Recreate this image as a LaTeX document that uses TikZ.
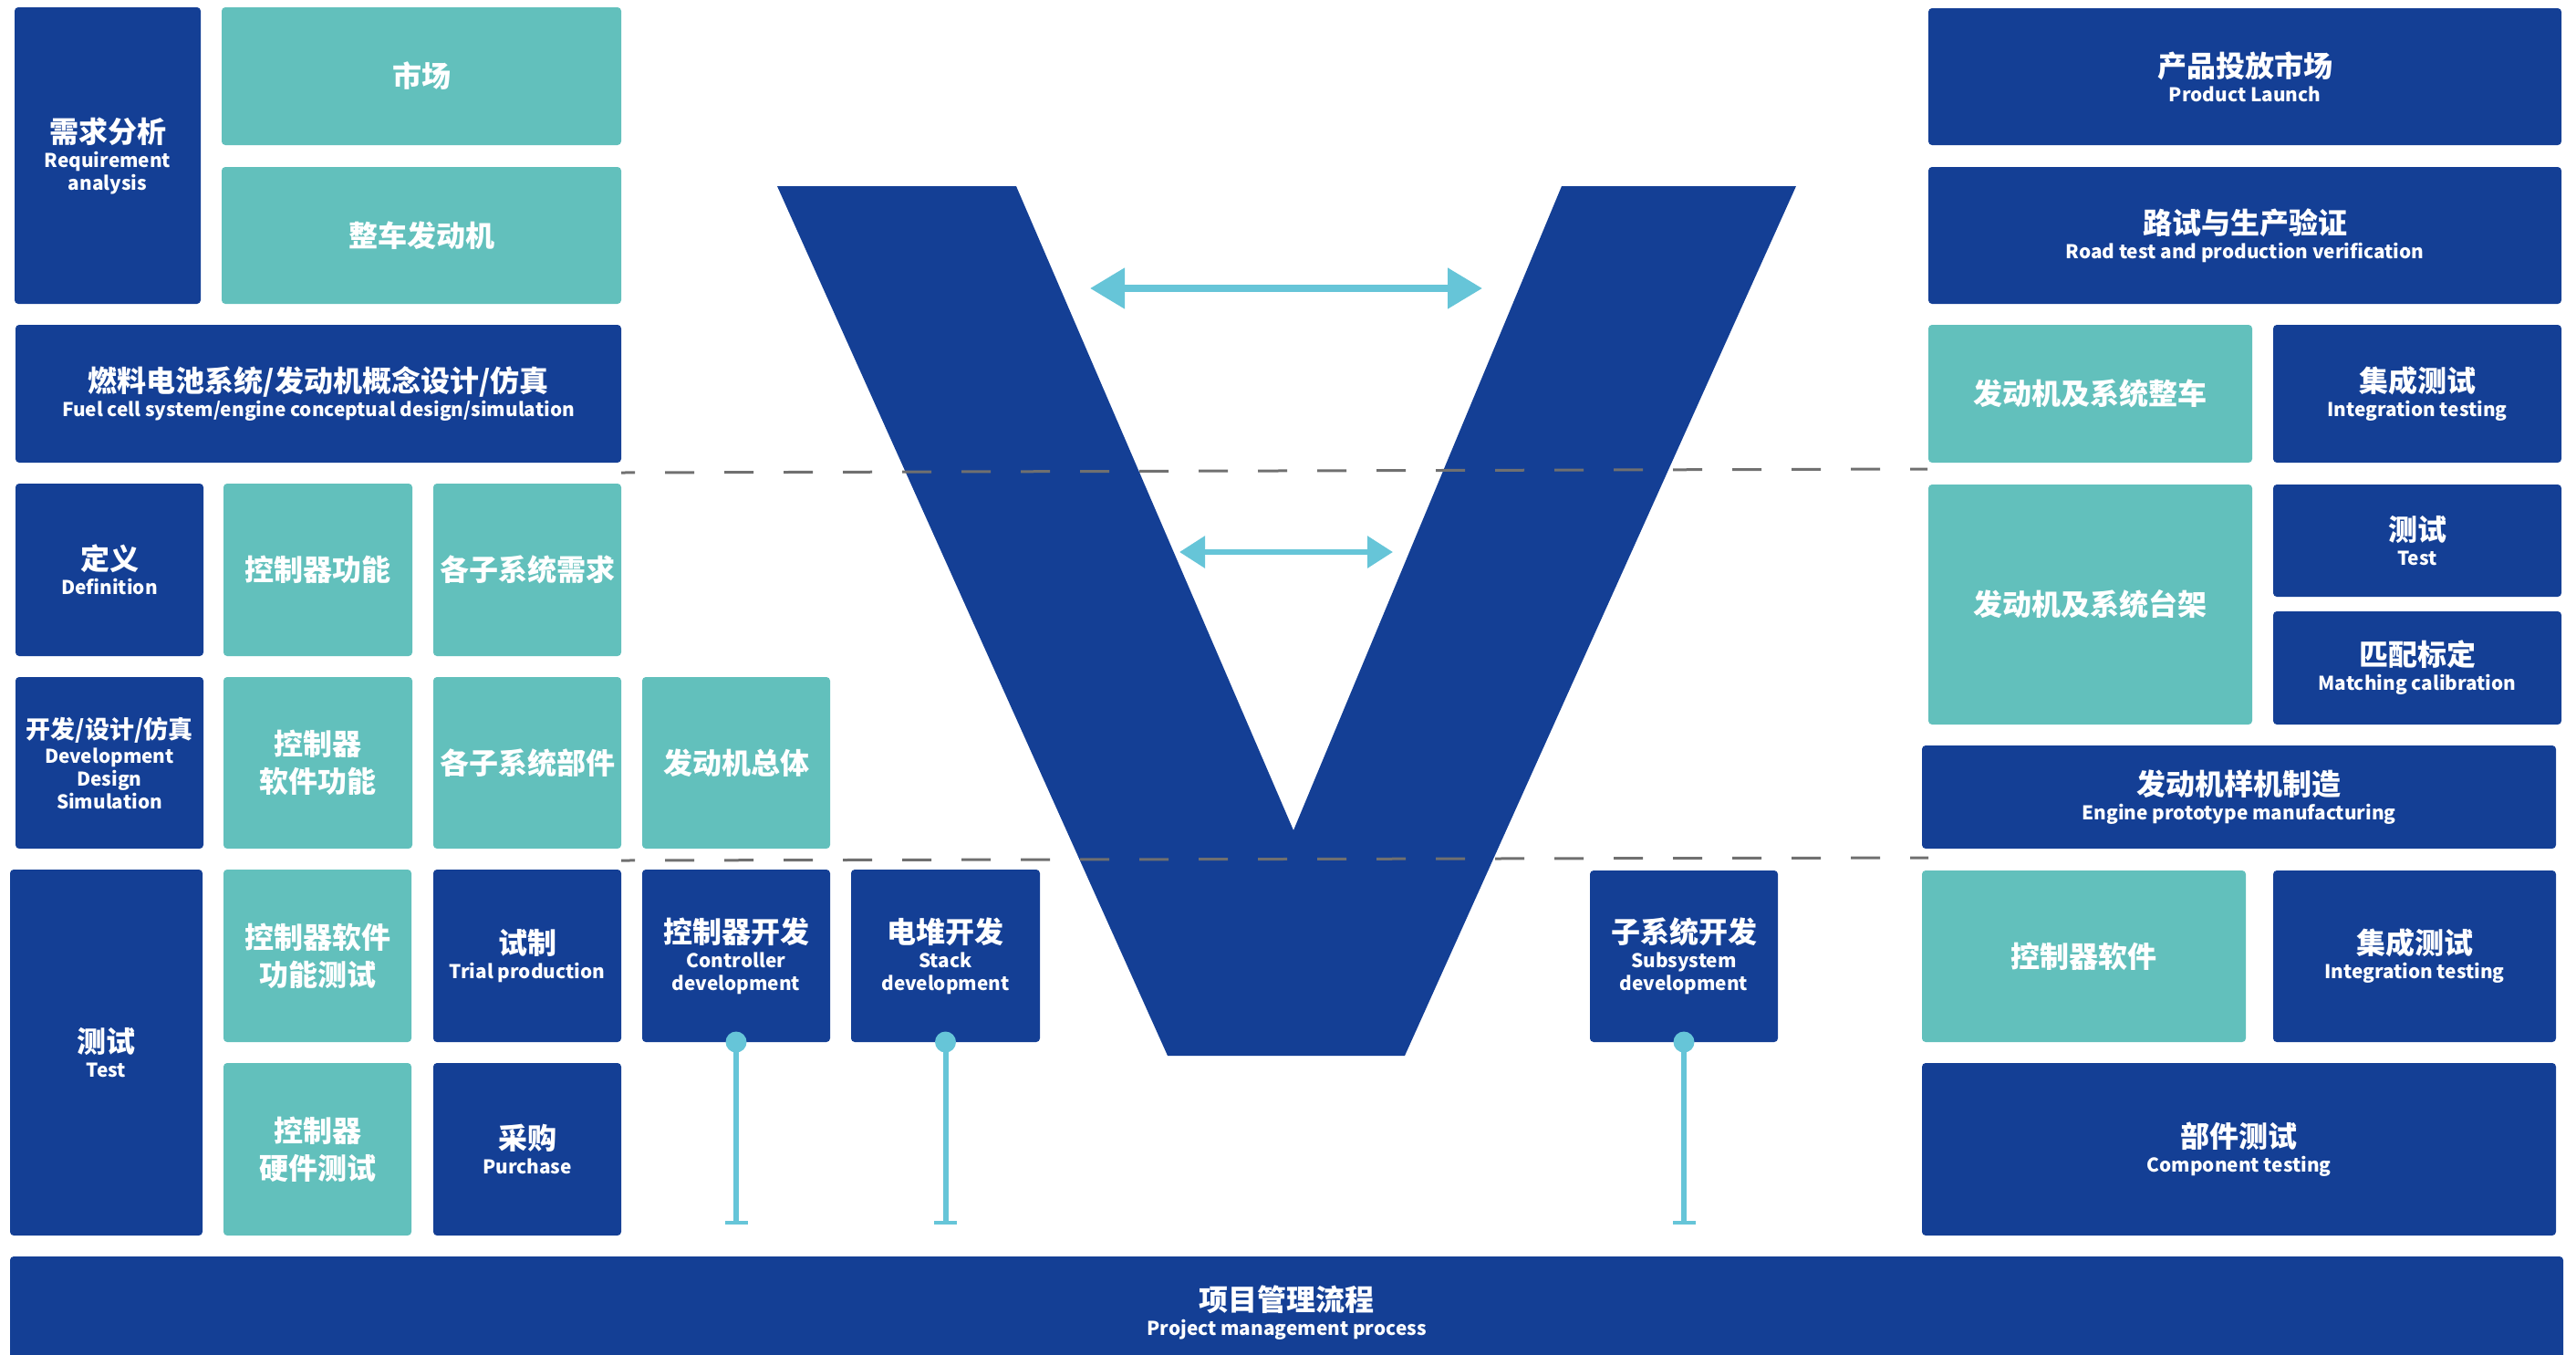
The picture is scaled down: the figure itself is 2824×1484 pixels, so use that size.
\documentclass[tikz,border=0pt]{standalone}
\usepackage{fontspec}
\setmainfont{Noto Sans CJK SC}
\usetikzlibrary{arrows.meta}
\definecolor{dkblue}{HTML}{143F95}
\definecolor{tealbox}{HTML}{62C0BC}
\definecolor{ltblue}{HTML}{66C5D8}
\definecolor{dashgray}{HTML}{707070}
\newcommand\zh[1]{{\fontsize{16}{12.5}\selectfont #1}}
\newcommand\zhs[1]{{\fontsize{13.5}{12.5}\selectfont #1}}
% \bx{name}{x1}{y1}{x2}{y2}{style}{text}
\newcommand\bx[7]{\node[#6, minimum width={(#4-#2)*0.5pt}, minimum height={(#5-#3)*0.5pt}] (#1) at ({(#2+#4)/2},{(#3+#5)/2}) {#7};}
\begin{document}
\begin{tikzpicture}[x=0.5pt,y=-0.5pt,
  box/.style={rectangle, rounded corners=2pt, inner sep=0pt, outer sep=0pt, text=white, align=center, font=\fontsize{10.4}{12.5}\selectfont\bfseries},
  dk/.style={box, fill=dkblue},
  tl/.style={box, fill=tealbox},
  vshape/.style={fill=dkblue},
  level/.style={draw=dashgray, line width=1.5pt, dash pattern=on 16pt off 16.5pt, dash phase=8.5pt},
  bigarrow/.style={draw=ltblue, line width=4pt, {Triangle[length=19pt,width=21.5pt]}-{Triangle[length=19pt,width=21.5pt]}},
  smallarrow/.style={draw=ltblue, line width=3pt, {Triangle[length=14pt,width=17pt]}-{Triangle[length=14pt,width=17pt]}},
  pin/.style={draw=ltblue, line width=3pt, -{Bar[width=12.5pt,line width=2pt]}},
  pinhead/.style={fill=ltblue}
]
\useasboundingbox (0,0) rectangle (2824,1484);
\clip (0,0) rectangle (2824,1484);

% V shape
\fill[vshape] (852,204) -- (1114,204) -- (1418,910) -- (1712,204) -- (1969,204) -- (1540,1157) -- (1280,1157) -- cycle;

% level lines
\coordinate (l1a) at (681,518);
\coordinate (l1b) at (2113,514);
\coordinate (l2a) at (681,943);
\coordinate (l2b) at (2114,940);
\draw[level] (l1a) -- (l1b);
\draw[level] (l2a) -- (l2b);

% arrows
\coordinate (a1l) at (1195,316);
\coordinate (a1r) at (1625,316);
\coordinate (a2l) at (1293,605);
\coordinate (a2r) at (1527,605);
\draw[bigarrow] (a1l) -- (a1r);
\draw[smallarrow] (a2l) -- (a2r);

% left side
\bx{req}{16}{8}{220}{333}{dk}{\zh{需求分析}\\[1pt]Requirement\\analysis}
\bx{market}{243}{8}{681}{159}{tl}{\zh{市场}}
\bx{vehicle}{243}{183}{681}{333}{tl}{\zh{整车发动机}}
\bx{fuel}{17}{356}{681}{507}{dk}{\zh{燃料电池系统/发动机概念设计/仿真}\\[1pt]Fuel cell system/engine conceptual design/simulation}
\bx{def}{17}{530}{223}{719}{dk}{\zh{定义}\\[1pt]Definition}
\bx{ctrlfun}{245}{530}{452}{719}{tl}{\zh{控制器功能}}
\bx{subreq}{475}{530}{681}{719}{tl}{\zh{各子系统需求}}
\bx{dev}{17}{742}{223}{930}{dk}{\zhs{开发/设计/仿真}\\[1pt]Development\\Design\\Simulation}
\bx{ctrlsw}{245}{742}{452}{930}{tl}{\zh{控制器}\\[4.3pt]\zh{软件功能}}
\bx{subpart}{475}{742}{681}{930}{tl}{\zh{各子系统部件}}
\bx{engall}{704}{742}{910}{930}{tl}{\zh{发动机总体}}
\bx{test}{11}{953}{222}{1354}{dk}{\zh{测试}\\[1pt]Test}
\bx{swtest}{245}{953}{451}{1142}{tl}{\zh{控制器软件}\\[4.3pt]\zh{功能测试}}
\bx{trial}{475}{953}{681}{1142}{dk}{\zh{试制}\\[1pt]Trial production}
\bx{hwtest}{245}{1165}{451}{1354}{tl}{\zh{控制器}\\[4.3pt]\zh{硬件测试}}
\bx{purchase}{475}{1165}{681}{1354}{dk}{\zh{采购}\\[1pt]Purchase}
\bx{ctrldev}{704}{953}{910}{1142}{dk}{\zh{控制器开发}\\[1pt]Controller\\development}
\bx{stackdev}{933}{953}{1140}{1142}{dk}{\zh{电堆开发}\\[1pt]Stack\\development}
\bx{subdev}{1743}{954}{1949}{1142}{dk}{\zh{子系统开发}\\[1pt]Subsystem\\development}

% right side
\bx{launch}{2114}{9}{2808}{159}{dk}{\zh{产品投放市场}\\[1pt]Product Launch}
\bx{road}{2114}{183}{2808}{333}{dk}{\zh{路试与生产验证}\\[1pt]Road test and production verification}
\bx{vehsys}{2114}{356}{2469}{507}{tl}{\zh{发动机及系统整车}}
\bx{integA}{2492}{356}{2808}{507}{dk}{\zh{集成测试}\\[1pt]Integration testing}
\bx{bench}{2114}{531}{2469}{794}{tl}{\zh{发动机及系统台架}}
\bx{testB}{2492}{531}{2808}{654}{dk}{\zh{测试}\\[1pt]Test}
\bx{match}{2492}{670}{2808}{794}{dk}{\zh{匹配标定}\\[1pt]Matching calibration}
\bx{proto}{2107}{817}{2802}{930}{dk}{\zh{发动机样机制造}\\[1pt]Engine prototype manufacturing}
\bx{ctrlswB}{2107}{954}{2462}{1142}{tl}{\zh{控制器软件}}
\bx{integB}{2492}{954}{2802}{1142}{dk}{\zh{集成测试}\\[1pt]Integration testing}
\bx{comp}{2107}{1165}{2802}{1354}{dk}{\zh{部件测试}\\[1pt]Component testing}

% bottom bar
\bx{pm}{11}{1377}{2810}{1500}{dk}{\zh{项目管理流程}\\[1pt]Project management process}

% pins
\coordinate (ctrldevEnd) at (807,1342);
\coordinate (stackdevEnd) at (1036.5,1342);
\coordinate (subdevEnd) at (1846,1342);
\draw[pin] (ctrldev.south) -- (ctrldevEnd);
\draw[pin] (stackdev.south) -- (stackdevEnd);
\draw[pin] (subdev.south) -- (subdevEnd);
\fill[pinhead] (ctrldev.south) circle[radius=5.75pt];
\fill[pinhead] (stackdev.south) circle[radius=5.75pt];
\fill[pinhead] (subdev.south) circle[radius=5.75pt];
\end{tikzpicture}
\end{document}
